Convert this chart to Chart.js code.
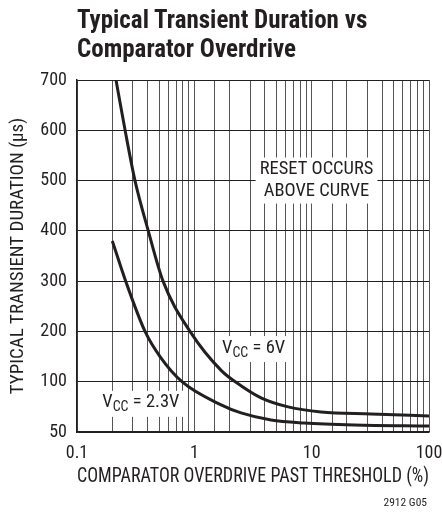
<!DOCTYPE html>
<html>
<head>
<meta charset="utf-8">
<script src="https://cdn.jsdelivr.net/npm/chart.js@4.4.0/dist/chart.umd.min.js"></script>
<style>
  html, body { margin: 0; padding: 0; background: #fff; }
  #wrap { position: relative; width: 442px; height: 517px; }
  #chart { position: absolute; left: 0; top: 0; }
  #title {
    position: absolute; left: 77px; top: 5px;
    font: bold 25px/29px 'Roboto Condensed', 'DejaVu Sans Condensed', sans-serif;
    color: #231f20;
    white-space: nowrap;
  }
</style>
</head>
<body>
<div id="wrap">
  <canvas id="chart" width="442" height="517"></canvas>
  <div id="title">Typical Transient Duration vs<br>Comparator Overdrive</div>
</div>
<script>
'use strict';

// overdrive in %, duration in µs
const overdrive6V = [0.215, 0.257, 0.312, 0.405, 0.541, 0.919, 1.7, 2.5, 3.7, 6.3, 12, 32, 100];
const duration6V = [700, 600, 500, 400, 300, 200, 122, 96, 84, 75, 70, 68, 66];
const overdrive23V = [0.2, 0.26, 0.38, 0.51, 0.785, 1.69, 2.5, 4.5, 8.6, 23, 100];
const duration23V = [380, 300, 200, 150, 100, 77, 69, 62, 59, 57, 56];

const xDecades = [0.1, 1, 10, 100];
const xTickLabels = ['0.1', '1', '10', '100'];
const yTicks = [50, 100, 200, 300, 400, 500, 600, 700];

const FONT = "'Roboto Condensed', 'DejaVu Sans Condensed', sans-serif";
const INK = '#231f20';

// ось Y в оригинале "сломана": участок 50..100 нарисован как полный шаг
const BREAK = 100;
class BrokenScale extends Chart.LinearScale {
    warp(v) {
        return v < BREAK ? (v - BREAK) * 2 + BREAK : v;
    }
    getPixelForValue(value) {
        if (value === null) return NaN;
        const lo = this.warp(this.min);
        const hi = this.warp(this.max);
        return this.getPixelForDecimal((this.warp(value) - lo) / (hi - lo));
    }
    getValueForPixel(pixel) {
        const lo = this.warp(this.min);
        const hi = this.warp(this.max);
        const w = lo + this.getDecimalForPixel(pixel) * (hi - lo);
        return w < BREAK ? (w - BREAK) / 2 + BREAK : w;
    }
}
BrokenScale.id = 'brokenLinear';
BrokenScale.defaults = Chart.LinearScale.defaults;
Chart.register(BrokenScale);

function toPoints(xs, ys) {
    return xs.map((x, i) => ({ x: x, y: ys[i] }));
}

// подписи на графике (в координатах данных)
const notes = [
    { x: 11, y: 500, lines: ['RESET OCCURS', 'ABOVE CURVE'] },
    { x: 3.2, y: 167, vcc: '6V' },
    { x: 0.35, y: 79, vcc: '2.3V' },
];

const notesPlugin = {
    id: 'notes',
    beforeDatasetsDraw(chart) {
        const ctx = chart.ctx;
        const sx = chart.scales.x;
        const sy = chart.scales.y;
        ctx.save();
        ctx.textBaseline = 'middle';
        for (let n of notes) {
            const cx = sx.getPixelForValue(n.x);
            const cy = sy.getPixelForValue(n.y);
            if (n.lines) {
                ctx.font = '18.5px ' + FONT;
                const lh = 22;
                let w = 0;
                for (let l of n.lines) w = Math.max(w, ctx.measureText(l).width);
                const h = lh * n.lines.length;
                ctx.fillStyle = '#fff';
                ctx.fillRect(cx - w / 2 - 4, cy - h / 2 - 1, w + 8, h + 2);
                ctx.fillStyle = INK;
                ctx.textAlign = 'center';
                n.lines.forEach((l, i) => {
                    ctx.fillText(l, cx, cy - h / 2 + lh * (i + 0.5));
                });
            } else {
                const big = '18.5px ' + FONT;
                const small = '14px ' + FONT;
                const rest = ' = ' + n.vcc;
                ctx.font = big;
                const wV = ctx.measureText('V').width;
                const wR = ctx.measureText(rest).width;
                ctx.font = small;
                const wC = ctx.measureText('CC').width;
                const w = wV + wC + wR;
                let x0 = cx - w / 2;
                ctx.fillStyle = '#fff';
                ctx.fillRect(x0 - 4, cy - 12, w + 8, 26);
                ctx.fillStyle = INK;
                ctx.textAlign = 'left';
                ctx.font = big;
                ctx.fillText('V', x0, cy);
                ctx.font = small;
                ctx.fillText('CC', x0 + wV, cy + 5);
                ctx.font = big;
                ctx.fillText(rest, x0 + wV + wC, cy);
            }
        }
        ctx.restore();
    },
    afterDraw(chart) {
        const ctx = chart.ctx;
        ctx.save();
        ctx.font = '11.5px ' + FONT;
        ctx.fillStyle = INK;
        ctx.textAlign = 'right';
        ctx.textBaseline = 'middle';
        ctx.fillText('2912 G05', 427, 503);
        ctx.restore();
    },
};

const curveStyle = {
    borderColor: INK,
    borderWidth: 3,
    pointRadius: 0,
    fill: false,
    cubicInterpolationMode: 'monotone',
};

new Chart(document.getElementById('chart'), {
    type: 'line',
    data: {
        datasets: [
            Object.assign({ label: 'VCC = 6V', data: toPoints(overdrive6V, duration6V) }, curveStyle),
            Object.assign({ label: 'VCC = 2.3V', data: toPoints(overdrive23V, duration23V) }, curveStyle),
        ],
    },
    options: {
        responsive: false,
        animation: false,
        events: [],
        layout: { padding: { top: 80, right: 13, left: 0, bottom: 25 } },
        plugins: {
            legend: { display: false },
            tooltip: { enabled: false },
        },
        scales: {
            x: {
                type: 'logarithmic',
                min: 0.1,
                max: 100,
                afterFit: (s) => {
                    s.height = 60;
                    s.paddingLeft = 0;
                    s.paddingRight = 0;
                },
                grid: { color: '#555', lineWidth: 1, drawTicks: false },
                border: { color: INK, width: 1.5 },
                ticks: {
                    autoSkip: false,
                    maxRotation: 0,
                    padding: 11,
                    color: INK,
                    font: { family: FONT, size: 18 },
                    callback: (v) => {
                        const i = xDecades.findIndex((d) => Math.abs(v / d - 1) < 1e-6);
                        return i >= 0 ? xTickLabels[i] : '';
                    },
                },
                title: {
                    display: true,
                    text: 'COMPARATOR OVERDRIVE PAST THRESHOLD (%)',
                    color: INK,
                    font: { family: FONT, size: 20.5 },
                    padding: { top: 0, bottom: 3 },
                },
            },
            y: {
                type: 'brokenLinear',
                min: 50,
                max: 700,
                afterBuildTicks: (s) => { s.ticks = yTicks.map((v) => ({ value: v })); },
                afterFit: (s) => {
                    s.width = 77;
                    s.paddingTop = 0;
                    s.paddingBottom = 0;
                },
                grid: { color: INK, lineWidth: 1, drawTicks: false },
                border: { color: INK, width: 1.5 },
                ticks: {
                    padding: 10,
                    color: INK,
                    font: { family: FONT, size: 18 },
                },
                title: {
                    display: true,
                    text: 'TYPICAL TRANSIENT DURATION (µs)',
                    color: INK,
                    font: { family: FONT, size: 19 },
                    padding: { top: 7, bottom: 0 },
                },
            },
        },
    },
    plugins: [notesPlugin],
});
</script>
</body>
</html>
